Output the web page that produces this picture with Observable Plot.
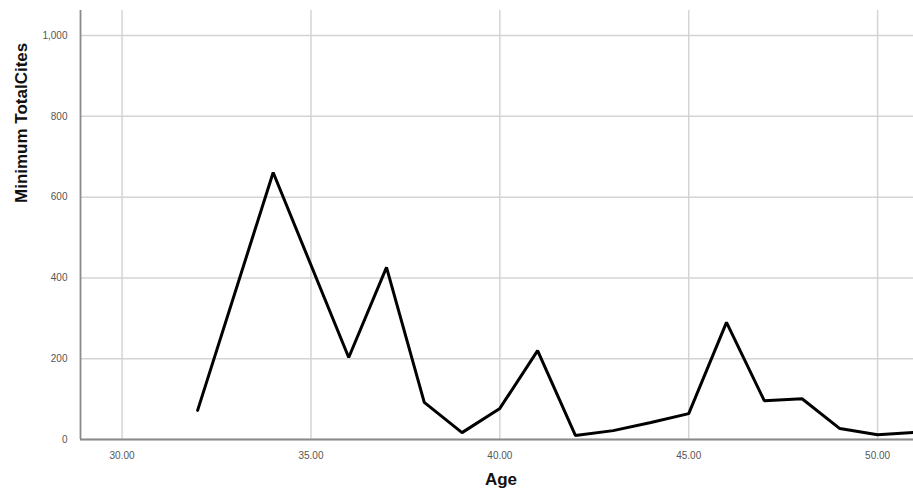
<!DOCTYPE html>
<html>
<head>
<meta charset="utf-8">
<script src="https://cdn.jsdelivr.net/npm/d3@7"></script>
<script src="https://cdn.jsdelivr.net/npm/@observablehq/plot@0.6"></script>
<style>
  html, body { margin: 0; padding: 0; background: #fff; }
  #chart { width: 913px; height: 494px; }
</style>
</head>
<body>
<div id="chart"></div>
<script>
const ages = [32, 34, 36, 37, 38, 39, 40, 41, 42, 43, 44, 45, 46, 47, 48, 49, 50, 51];
const minCites = [72, 661, 203, 426, 92, 17, 77, 220, 10, 22, 42, 64, 290, 96, 101, 27, 12, 18];
const xTicks = [30, 35, 40, 45, 50];
const yTicks = [0, 200, 400, 600, 800, 1000];
const xLabel = "Age";
const yLabel = "Minimum TotalCites";

const data = ages.map((a, i) => ({age: a, value: minCites[i]}));

const chart = Plot.plot({
  width: 913,
  height: 494,
  marginTop: 10,
  marginBottom: 55,
  marginLeft: 80,
  marginRight: 0,
  style: {fontFamily: "Liberation Sans, Arial, sans-serif", background: "#fff"},
  x: {domain: [28.9, 50.95]},
  y: {domain: [0, 1062]},
  marks: [
    Plot.gridY(yTicks, {stroke: "#d4d4d4", strokeOpacity: 1, strokeWidth: 1.5}),
    Plot.gridX(xTicks, {stroke: "#d4d4d4", strokeOpacity: 1, strokeWidth: 1.5}),
    Plot.axisY(yTicks, {tickSize: 0, tickPadding: 13, tickFormat: d3.format(","), fontSize: 10, fill: "#555", label: null}),
    Plot.axisX(xTicks, {tickSize: 0, tickPadding: 12, tickFormat: d3.format(".2f"), fontSize: 10, fill: "#555", label: null}),
    Plot.ruleX([28.9], {stroke: "#8a8a8a", strokeWidth: 1.8}),
    Plot.ruleY([0], {stroke: "#8a8a8a", strokeWidth: 1.8}),
    Plot.line(data, {x: "age", y: "value", stroke: "#000", strokeWidth: 3, strokeLinejoin: "miter", clip: true}),
    Plot.text([yLabel], {frameAnchor: "left", rotate: -90, dx: -59, dy: -22, fontSize: 17, fontWeight: "bold", fill: "#111"}),
    Plot.text([xLabel], {frameAnchor: "bottom", dy: 45, dx: 4, fontSize: 17, fontWeight: "bold", fill: "#111"})
  ]
});
document.getElementById("chart").appendChild(chart);
</script>
</body>
</html>
